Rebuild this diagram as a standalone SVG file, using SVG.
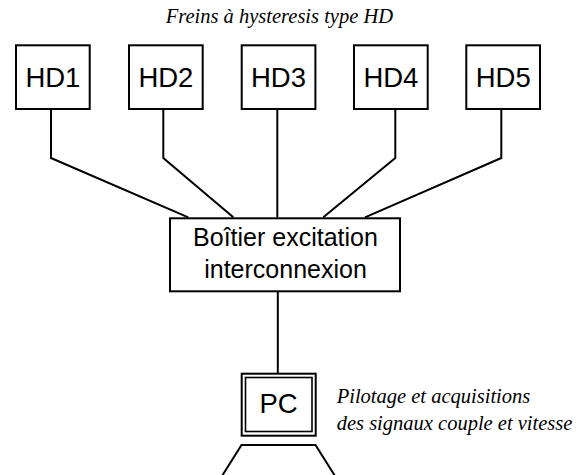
<svg xmlns="http://www.w3.org/2000/svg" width="588" height="475" viewBox="0 0 588 475">
<style>
.box{fill:#fff;stroke:#000;stroke-width:2}
.lbl{font-family:"Liberation Sans",Arial,sans-serif;fill:#000;text-anchor:middle}
.hd{font-size:27.5px}
.bx{font-size:25px}
.note{font-family:"Liberation Serif","Times New Roman",serif;font-style:italic;font-size:20.5px;fill:#000}
.wire{fill:none;stroke:#000;stroke-width:2;stroke-linejoin:miter}
</style>
<rect width="588" height="475" fill="#fff"/>
<text class="note" x="165.7" y="23.3">Freins à hysteresis type HD</text>
<g id="connectors">
<polyline class="wire" points="51,110 51,158 188.3,217.3"/>
<polyline class="wire" points="163.3,110 163.3,158 233.3,217.3"/>
<polyline class="wire" points="277.3,110 277.3,217.3"/>
<polyline class="wire" points="395.3,110 395.3,158 323.3,217.3"/>
<polyline class="wire" points="501.3,110 501.3,158 365,217.3"/>
<line class="wire" x1="277.8" y1="292" x2="277.8" y2="373"/>
</g>
<g id="hd1"><rect class="box" x="16" y="45.3" width="73.7" height="63.7"/><text class="lbl hd" x="52.9" y="87.3">HD1</text></g>
<g id="hd2"><rect class="box" x="129" y="45.3" width="73.7" height="63.7"/><text class="lbl hd" x="165.9" y="87.3">HD2</text></g>
<g id="hd3"><rect class="box" x="241.7" y="45.3" width="73.7" height="63.7"/><text class="lbl hd" x="278.5" y="87.3">HD3</text></g>
<g id="hd4"><rect class="box" x="354" y="45.3" width="73.7" height="63.7"/><text class="lbl hd" x="390.9" y="87.3">HD4</text></g>
<g id="hd5"><rect class="box" x="466.3" y="45.3" width="73.7" height="63.7"/><text class="lbl hd" x="503.2" y="87.3">HD5</text></g>
<g id="boitier"><rect class="box" x="170" y="218.3" width="230" height="73"/><text class="lbl bx" x="285.5" y="246">Boîtier excitation</text><text class="lbl bx" x="285.5" y="277.7">interconnexion</text></g>
<g id="pc">
<rect class="box" x="241.7" y="373.7" width="74" height="62"/>
<rect x="245.5" y="377.5" width="66.5" height="54" fill="none" stroke="#000" stroke-width="1.6"/>
<text class="lbl hd" x="278.5" y="413.3">PC</text>
<polyline class="wire" points="222,476 241.5,445 315.5,445 335,476"/>
</g>
<g id="pc-note">
<text class="note" x="336.7" y="403.3">Pilotage et acquisitions</text>
<text class="note" x="336.7" y="430">des signaux couple et vitesse</text>
</g>
</svg>
